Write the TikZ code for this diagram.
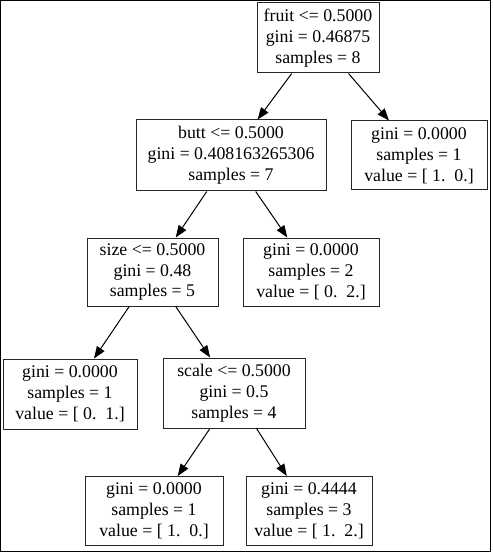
\documentclass[tikz,border=0pt]{standalone}
\usepackage{fontspec}
\setmainfont{Liberation Serif}
\usetikzlibrary{arrows.meta}
\tikzset{
  tnode/.style={draw=black!85, line width=1pt, align=center, inner sep=0pt,
    minimum height=70pt, font=\fontsize{17.8}{20.8}\selectfont},
  tedge/.style={line width=1pt, -{Triangle[length=12pt,width=9pt]}}
}
\begin{document}
\begin{tikzpicture}[x=1pt,y=-1pt]
\useasboundingbox (0,0) rectangle (492,553);
\draw[line width=1.3pt] (0.65,0.65) rectangle (490.5,551.5);
\node[tnode, minimum width=122pt] (root) at (318,38) {fruit <= 0.5000\\gini = 0.46875\\samples = 8};
\node[tnode, minimum width=190pt, minimum height=71pt] (butt) at (231,155.5) {butt <= 0.5000\\gini = 0.408163265306\\samples = 7};
\node[tnode, minimum width=136pt, minimum height=69pt] (r1) at (419,155.5) {gini = 0.0000\\samples = 1\\value = [ 1.\ \ 0.]};
\node[tnode, minimum width=131pt, minimum height=68pt] (size) at (152.5,272) {size <= 0.5000\\gini = 0.48\\samples = 5};
\node[tnode, minimum width=136pt, minimum height=68pt] (g2) at (311,272) {gini = 0.0000\\samples = 2\\value = [ 0.\ \ 2.]};
\node[tnode, minimum width=134pt] (l01) at (70,394) {gini = 0.0000\\samples = 1\\value = [ 0.\ \ 1.]};
\node[tnode, minimum width=142pt] (scale) at (234,393) {scale <= 0.5000\\gini = 0.5\\samples = 4};
\node[tnode, minimum width=138pt, minimum height=69pt] (l10) at (154,511) {gini = 0.0000\\samples = 1\\value = [ 1.\ \ 0.]};
\node[tnode, minimum width=126pt, minimum height=69pt] (l12) at (309,511) {gini = 0.4444\\samples = 3\\value = [ 1.\ \ 2.]};
\draw[tedge] (root) -- (butt);
\draw[tedge] (root) -- (r1);
\draw[tedge] (butt) -- (size);
\draw[tedge] (butt) -- (g2);
\draw[tedge] (size) -- (l01);
\draw[tedge] (size) -- (scale);
\draw[tedge] (scale) -- (l10);
\draw[tedge] (scale) -- (l12);
\end{tikzpicture}
\end{document}
